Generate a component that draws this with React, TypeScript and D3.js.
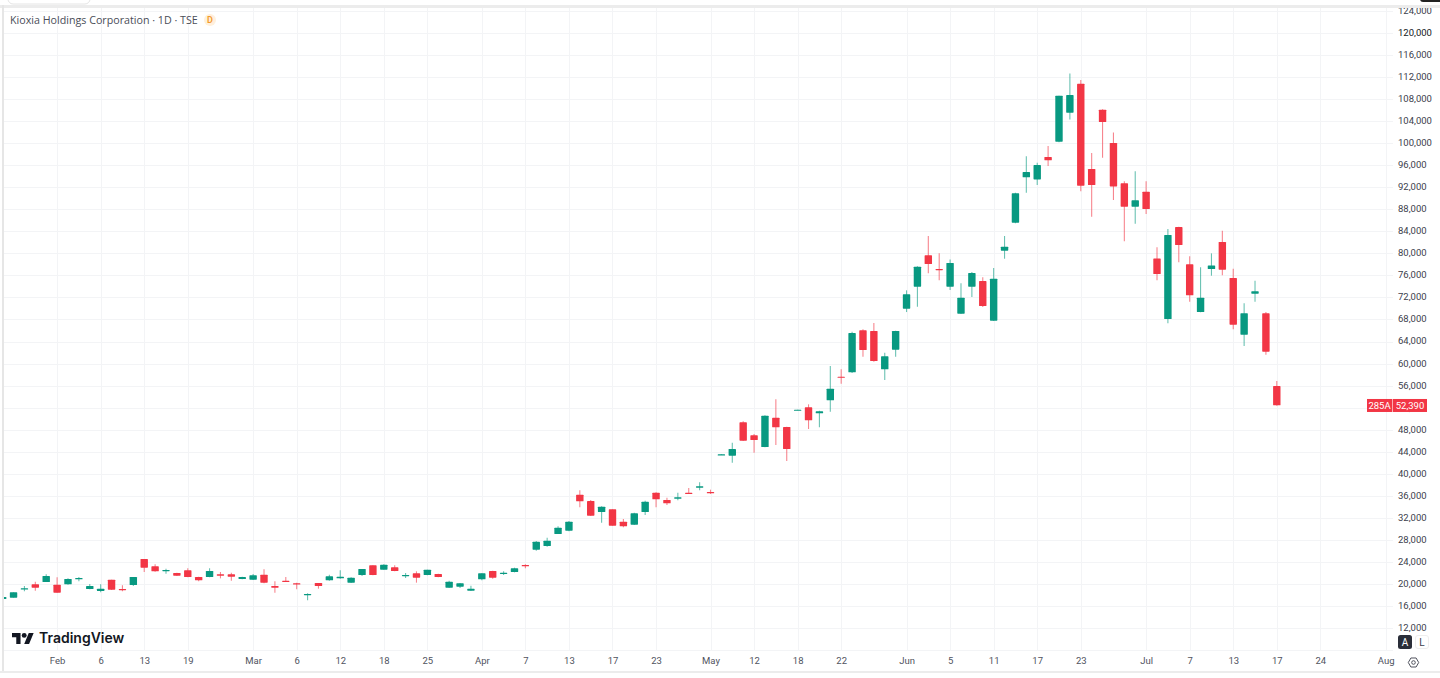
import * as d3 from "d3";
import React from "react";

// price readings per session, oldest first (Kioxia, daily, TSE)
const opens = [17260,17510,19020,19930,20350,19870,19930,20830,19080,18720,20770,19080,19800,24520,23190,22350,21980,22470,21260,21260,21740,21740,20890,20770,21680,19620,20590,20110,18050,20170,20650,21010,20230,21620,23370,22590,23010,21440,21920,21620,21800,19320,19500,18780,20830,22350,21860,22160,23430,26220,26880,29060,29670,36200,35050,33050,33540,31300,30760,33050,36560,35230,35470,36560,37470,36680,43400,43280,49330,46970,44850,50180,48480,51510,52050,50960,53320,57620,58400,66030,65910,58950,62520,69960,73950,79640,77160,73950,69050,73950,74980,67780,80490,85570,93800,93430,97490,100270,105530,110800,95310,106080,100030,92710,88470,91190,79090,68080,84780,78010,69350,77160,82060,75530,65240,72680,69110,55920];
const highs = [17630,18470,19620,20410,21740,21200,21010,21260,19990,19930,20770,19740,21260,24520,23560,22770,22040,22830,21320,22830,22160,22040,21320,21800,22650,20470,21260,20230,18290,20170,21680,22470,21200,22710,23370,23560,23370,21980,22290,22590,21860,20590,20170,19680,21920,22410,22290,22950,23560,27790,28400,30450,31420,36990,35230,34080,33540,31780,32930,35110,36620,35660,36560,37410,38440,37110,43520,45640,49510,47210,50600,53500,48540,51630,52600,51450,59550,58950,65780,66210,67360,61970,65970,73290,77640,83150,80000,78910,74560,76610,75650,77340,83150,91010,97610,96460,99480,108620,112670,111460,98210,106140,101960,93070,94890,93070,81090,84420,84840,79460,77460,80000,84120,77220,70930,75040,69350,56830];
const lows = [17260,17510,18660,18780,20350,18410,19870,20470,19020,18470,18900,18660,19620,22160,22220,21860,21440,21200,20470,21200,21010,20590,20830,20710,20110,18410,20350,19020,17020,19140,20590,20950,20170,21440,21560,22590,22290,21080,20230,21560,21200,19260,19260,18720,20650,20950,21620,22100,22830,26040,26760,29060,29550,33900,32330,31120,30570,30270,30700,32510,33900,34320,35170,36380,36990,36320,43400,42010,45940,43820,44790,45210,42310,51510,48120,48420,51260,56350,58280,61250,60340,57010,61250,69350,70320,76370,75100,73350,68990,72080,70260,67720,79030,85450,91010,92400,95850,100150,104320,91260,86660,97370,89680,82180,85390,87140,75100,67300,78370,71230,69290,75950,76010,66210,63180,71230,61610,52350];
const closes = [17630,18470,19200,19320,21440,18410,20890,21080,19620,19140,18960,18900,21260,22950,22290,22530,21500,21260,20650,22350,21500,21320,21260,21560,20230,19320,20410,20050,18170,19620,21380,21320,21140,22710,21620,23500,22350,21620,21140,22590,21260,20410,20110,19140,21920,21140,22040,22830,23310,27670,27850,30210,31300,34990,32390,34020,30570,30450,32810,34930,35350,34630,35720,36440,37710,36560,43520,44490,46000,46120,50540,48420,44490,51630,49690,51330,55440,57500,65540,62460,60460,61310,65910,72560,77580,78070,77040,78250,71960,76430,70440,75400,81210,90890,94760,96030,96880,108620,108740,92280,92400,103840,92160,88470,89620,88050,76250,83330,81510,72380,71960,77820,77040,67060,69110,73110,62150,52410];

const gridPrices = [8000,12000,16000,20000,24000,28000,32000,36000,40000,44000,48000,52000,56000,60000,64000,68000,72000,76000,80000,84000,88000,92000,96000,100000,104000,108000,112000,116000,120000,124000];
const priceLabels = gridPrices.filter((d) => d >= 12000);
const dateTickIndex = [5,9,13,17,23,27,31,35,39,44,48,52,56,60,65,69,73,77,83,87,91,95,99,105,109,113,117,121,127];
const dateTickLabels = ["Feb","6","13","19","Mar","6","12","18","25","Apr","7","13","17","23","May","12","18","22","Jun","5","11","17","23","Jul","7","13","17","24","Aug"];

const title = "Kioxia Holdings Corporation · 1D · TSE";
const lastPrice = 52390;
const ticker = "285A";

const UP = "#089981";
const DOWN = "#f23645";
const GRID = "#f3f4f6";
const FONT = "Roboto, 'Noto Sans', sans-serif";

export default function App() {
  const ref = React.useRef<SVGSVGElement | null>(null);
  const width = 1440;
  const height = 678;

  const drawElm = (node: SVGSVGElement) => {
    const svg = d3.select(node);
    svg.selectAll("*").remove();

    const x = d3.scaleLinear().domain([0, 127]).range([2.65, 1385.7]);
    const y = d3.scaleLinear().domain([12000, 120000]).range([628, 33]);
    const paneLeft = 4;
    const paneTop = 8;
    const paneBottom = 650;
    const paneRight = 1393;

    svg.append("rect").attr("width", width).attr("height", height).attr("fill", "#fff");

    const defs = svg.append("defs");
    defs.append("clipPath").attr("id", "pane").append("rect")
      .attr("x", paneLeft).attr("y", paneTop)
      .attr("width", paneRight - paneLeft).attr("height", paneBottom - paneTop + 1);
    defs.append("clipPath").attr("id", "scale").append("rect")
      .attr("x", paneRight).attr("y", paneTop)
      .attr("width", width - paneRight).attr("height", paneBottom - paneTop);

    // grid
    const grid = svg.append("g").attr("clip-path", "url(#pane)").attr("stroke", GRID).attr("stroke-width", 1);
    grid.selectAll("line.h").data(gridPrices).join("line").attr("class", "h")
      .attr("x1", paneLeft).attr("x2", paneRight)
      .attr("y1", (d) => Math.round(y(d)) + 0.5).attr("y2", (d) => Math.round(y(d)) + 0.5);
    grid.selectAll("line.v").data(dateTickIndex).join("line").attr("class", "v")
      .attr("y1", paneTop).attr("y2", paneBottom)
      .attr("x1", (d) => Math.round(x(d)) + 0.5).attr("x2", (d) => Math.round(x(d)) + 0.5);

    // candles
    const idx = d3.range(closes.length);
    const colorOf = (i: number) => (closes[i] >= opens[i] ? UP : DOWN);
    const candles = svg.append("g").attr("clip-path", "url(#pane)");
    candles.append("g").selectAll("line").data(idx).join("line")
      .attr("x1", (i) => x(i)).attr("x2", (i) => x(i))
      .attr("y1", (i) => y(highs[i])).attr("y2", (i) => y(lows[i]))
      .attr("stroke", colorOf).attr("stroke-width", 1.1).attr("stroke-opacity", 0.6);
    const bodyW = 7.4;
    candles.append("g").selectAll("rect").data(idx).join("rect")
      .attr("x", (i) => x(i) - bodyW / 2)
      .attr("width", bodyW)
      .attr("y", (i) => y(Math.max(opens[i], closes[i])))
      .attr("height", (i) => Math.max(1.2, Math.abs(y(opens[i]) - y(closes[i]))))
      .attr("fill", colorOf)
      .attr("rx", 0.6);

    // right price scale
    const right = svg.append("g").attr("clip-path", "url(#scale)");
    const axisR = right.append("g").attr("transform", "translate(1395,-0.6)")
      .call(d3.axisRight(y).tickValues(priceLabels).tickSize(0).tickPadding(3).tickFormat(d3.format(",")));
    axisR.select(".domain").remove();
    axisR.selectAll("text").attr("font-family", FONT).attr("font-size", 9.5).attr("fill", "#3c404c");
    axisR.selectAll<SVGGElement, number>("g.tick").filter((d) => d === 120000)
      .select("text").attr("fill", "#131722");

    // time scale
    const axisB = svg.append("g").attr("transform", `translate(0,${paneBottom + 7.5})`)
      .call(d3.axisBottom(x).tickValues(dateTickIndex).tickSize(0).tickPadding(0)
        .tickFormat((_, i) => dateTickLabels[i]));
    axisB.select(".domain").remove();
    axisB.selectAll("text").attr("font-family", FONT).attr("font-size", 9.5).attr("fill", "#50535e");

    // frame
    svg.append("rect").attr("x", 0).attr("y", 5).attr("width", width).attr("height", 3).attr("fill", "#ececec");
    svg.append("rect").attr("x", 2).attr("y", 5).attr("width", 2).attr("height", 667).attr("fill", "#e6e6e6");
    svg.append("rect").attr("x", 0).attr("y", 671).attr("width", width).attr("height", 2).attr("fill", "#ececec");
    svg.append("rect").attr("x", 8).attr("y", -8).attr("width", 82).attr("height", 12).attr("rx", 5)
      .attr("fill", "#fff").attr("stroke", "#e4e4e4");
    svg.append("rect").attr("x", 1420).attr("y", -6).attr("width", 24).attr("height", 8).attr("rx", 3).attr("fill", "#222");

    // title
    svg.append("text").text(title).attr("x", 10).attr("y", 24)
      .attr("font-family", "'Open Sans', sans-serif").attr("font-size", 10.7).attr("fill", "#4a4d58");
    svg.append("circle").attr("cx", 210).attr("cy", 20).attr("r", 6).attr("fill", "#fff0dc");
    svg.append("text").text("D").attr("x", 210).attr("y", 23.2).attr("text-anchor", "middle")
      .attr("font-family", FONT).attr("font-size", 9).attr("font-weight", 600).attr("fill", "#f39a2e");

    // logo
    const logo = svg.append("g").attr("fill", "#131722");
    logo.append("g").attr("transform", "translate(12,630.5) scale(0.61)").call((g) => {
      g.append("path").attr("d", "M14 22H7V11H0V4h14v18zM28 22h-8l7.5-18h8L28 22z");
      g.append("circle").attr("cx", 20).attr("cy", 8).attr("r", 4);
    });
    logo.append("text").text("TradingView").attr("x", 39).attr("y", 643)
      .attr("font-family", "Inter, sans-serif").attr("font-size", 14).attr("font-weight", 600);

    // last price tag
    const tagY = y(lastPrice);
    svg.append("rect").attr("x", 1367).attr("y", tagY - 6.5).attr("width", 25).attr("height", 13).attr("fill", DOWN);
    svg.append("rect").attr("x", 1392.6).attr("y", tagY - 6.5).attr("width", 34.4).attr("height", 13).attr("fill", DOWN);
    svg.append("text").text(ticker).attr("x", 1379.5).attr("y", tagY + 3.3).attr("text-anchor", "middle")
      .attr("font-family", FONT).attr("font-size", 9.5).attr("fill", "#fff");
    svg.append("text").text(d3.format(",")(lastPrice)).attr("x", 1410).attr("y", tagY + 3.3).attr("text-anchor", "middle")
      .attr("font-family", FONT).attr("font-size", 9.5).attr("fill", "#fff");

    // A / L buttons
    svg.append("rect").attr("x", 1398).attr("y", 635).attr("width", 14).attr("height", 14).attr("rx", 2.5).attr("fill", "#2a2e39");
    svg.append("text").text("A").attr("x", 1405).attr("y", 645.5).attr("text-anchor", "middle")
      .attr("font-family", FONT).attr("font-size", 10).attr("fill", "#fff");
    svg.append("rect").attr("x", 1415.5).attr("y", 635.5).attr("width", 13).attr("height", 13).attr("rx", 2.5)
      .attr("fill", "#fff").attr("stroke", "#eeeeee");
    svg.append("text").text("L").attr("x", 1422).attr("y", 645.5).attr("text-anchor", "middle")
      .attr("font-family", FONT).attr("font-size", 10).attr("fill", "#3c404c");

    // settings icon
    const hex = d3.range(6).map((k) => {
      const a = (Math.PI / 3) * k;
      return [1413.5 + 5.2 * Math.cos(a), 662.5 + 5.2 * Math.sin(a)] as [number, number];
    });
    svg.append("path").attr("d", d3.line()(hex) + "Z").attr("fill", "none").attr("stroke", "#50535e").attr("stroke-width", 1);
    svg.append("circle").attr("cx", 1413.5).attr("cy", 662.5).attr("r", 1.8).attr("fill", "none")
      .attr("stroke", "#50535e").attr("stroke-width", 1);
  };

  React.useEffect(() => {
    if (ref.current) {
      drawElm(ref.current);
    }
  });

  return (
    <svg
      ref={ref}
      width={width}
      height={height}
      style={{ position: "absolute", left: 0, top: 0, display: "block" }}
    />
  );
}
